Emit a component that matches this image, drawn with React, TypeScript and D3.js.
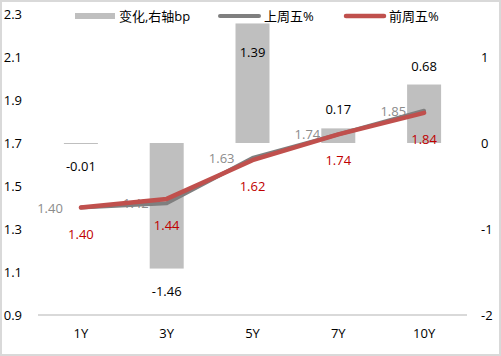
import React from "react";
import * as d3 from "d3";

const categories = ["1Y", "3Y", "5Y", "7Y", "10Y"];
const changeBp = [-0.01, -1.46, 1.39, 0.17, 0.68];
const lastFri = [1.40, 1.42, 1.63, 1.74, 1.85];
const prevFri = [1.40, 1.44, 1.62, 1.74, 1.84];
const leftTicks = [0.9, 1.1, 1.3, 1.5, 1.7, 1.9, 2.1, 2.3];
const rightTicks = [-2, -1, 0, 1];
const seriesNames = ["变化,右轴bp", "上周五%", "前周五%"];

const W = 501, H = 356;
const FONT = "'Open Sans', 'Noto Sans CJK SC', sans-serif";

export default function App() {
  const xc = d3.scaleBand().domain(categories).range([38, 467]);
  const yL = d3.scaleLinear().domain([0.9, 2.3]).range([315, 14]);
  const yR = d3.scaleLinear().domain([-2, 1.5]).range([315, 14]);
  const cx = (c: string) => (xc(c) as number) + xc.bandwidth() / 2;
  const bw = 34;
  const line = d3.line<number>().x((_, i) => cx(categories[i])).y((d) => yL(d));

  return (
    <svg width={W} height={H} style={{ position: "absolute", left: 0, top: 0 }} fontFamily={FONT}>
      <rect x={1} y={1} width={W - 2} height={H - 2} fill="#fff" stroke="#d9d9d9" strokeWidth={2} />
      {changeBp.map((v, i) => {
        const c = categories[i];
        const y0 = yR(0), y1 = yR(v);
        return (
          <rect key={c} x={cx(c) - bw / 2} y={Math.min(y0, y1)} width={bw}
            height={Math.max(Math.abs(y1 - y0), 1)} fill="#bfbfbf" />
        );
      })}
      <line x1={38} x2={467} y1={yL(0.9)} y2={yL(0.9)} stroke="#d9d9d9" strokeWidth={2} />
      {leftTicks.map((t) => (
        <text key={t} x={22} y={yL(t)} textAnchor="end" dominantBaseline="central" fontSize={13} fill="#000">
          {t.toFixed(1)}
        </text>
      ))}
      {rightTicks.map((t) => (
        <text key={t} x={481} y={yR(t)} textAnchor="start" dominantBaseline="central" fontSize={13} fill="#000">
          {t}
        </text>
      ))}
      {categories.map((c) => (
        <text key={c} x={cx(c)} y={333} textAnchor="middle" dominantBaseline="central" fontSize={13} fill="#000">
          {c}
        </text>
      ))}
      {changeBp.map((v, i) => {
        const c = categories[i];
        let y = v >= 0 ? yR(v) - 19 : yR(v) + 22;
        if (y < 52) y = 52;
        return (
          <text key={c} x={cx(c)} y={y} textAnchor="middle" dominantBaseline="central" fontSize={13} fill="#000">
            {v.toFixed(2)}
          </text>
        );
      })}
      {lastFri.map((v, i) => (
        <text key={i} x={cx(categories[i]) - 18} y={yL(v)} textAnchor="end" dominantBaseline="central" fontSize={13} fill="#8c8c8c">
          {v.toFixed(2)}
        </text>
      ))}
      <path d={line(lastFri) as string} fill="none" stroke="#7f7f7f" strokeWidth={4} strokeLinejoin="round" strokeLinecap="round" />
      <path d={line(prevFri) as string} fill="none" stroke="#c0504d" strokeWidth={4.5} strokeLinejoin="round" strokeLinecap="round" />
      {prevFri.map((v, i) => (
        <text key={i} x={cx(categories[i])} y={yL(v) + 26} textAnchor="middle" dominantBaseline="central" fontSize={13} fill="#c00000">
          {v.toFixed(2)}
        </text>
      ))}
      <rect x={75} y={13} width={40} height={6} fill="#bfbfbf" />
      <text x={119} y={16} dominantBaseline="central" fontSize={13} fill="#000">{seriesNames[0]}</text>
      <line x1={220} x2={259} y1={16} y2={16} stroke="#7f7f7f" strokeWidth={4} strokeLinecap="round" />
      <text x={264} y={16} dominantBaseline="central" fontSize={13} fill="#000">{seriesNames[1]}</text>
      <line x1={346} x2={384} y1={16} y2={16} stroke="#c0504d" strokeWidth={4.5} strokeLinecap="round" />
      <text x={389} y={16} dominantBaseline="central" fontSize={13} fill="#000">{seriesNames[2]}</text>
    </svg>
  );
}
